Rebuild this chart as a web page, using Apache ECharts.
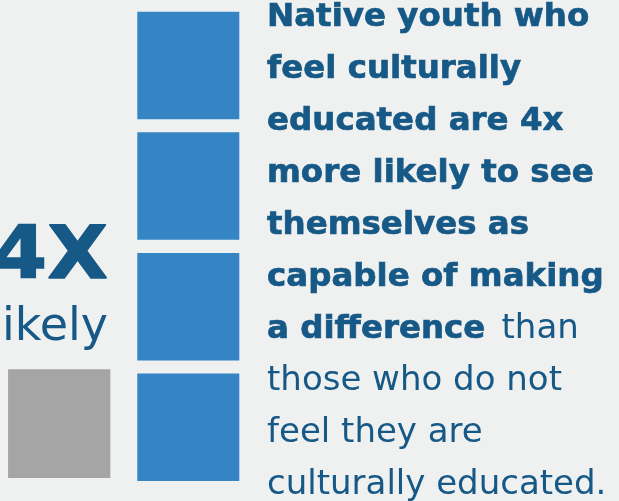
<!DOCTYPE html>
<html>
<head>
<meta charset="utf-8">
<script src="https://cdn.jsdelivr.net/npm/echarts@6/dist/echarts.min.js"></script>
<style>
  html, body { margin: 0; padding: 0; background: #eff0f0; }
  #chart { width: 619px; height: 501px; }
</style>
</head>
<body>
<div id="chart"></div>
<script>
// Likelihood of seeing oneself as able to make a difference (relative units)
const categories = ['Not culturally educated', 'Culturally educated'];
const values = [1, 4];
const barColors = ['#a5a5a5', '#3584c4'];

const headline = '4X';
const subline = 'likely';

// Statement text, one entry per line: [bold part, regular part]
const statementLines = [
  ['Native youth who', ''],
  ['feel culturally', ''],
  ['educated are 4x', ''],
  ['more likely to see', ''],
  ['themselves as', ''],
  ['capable of making', ''],
  ['a difference', 'than'],
  ['', 'those who do not'],
  ['', 'feel they are'],
  ['', 'culturally educated.']
];

const textColor = '#165886';
const chart = echarts.init(document.getElementById('chart'), null, { renderer: 'canvas' });

const lineStep = 52;
const firstBaseline = 28.5;
const boldSize = 32;
const regSize = 34;
const textLeft = 267;

function textEl(x, baseline, text, size, weight, scaleX, align, heavy) {
  const style = {
    text: text,
    font: weight + ' ' + size + 'px "DejaVu Sans"',
    fill: textColor,
    textAlign: align || 'left',
    textVerticalAlign: 'middle',
    verticalAlign: 'middle'
  };
  if (heavy) {
    // thin outline in the fill colour gives the bold runs extra weight
    style.stroke = textColor;
    style.lineWidth = heavy;
  }
  return { type: 'text', x: x, y: baseline - size * 0.33, scaleX: scaleX, style: style };
}

const graphics = [
  textEl(108, 283.5, headline, 73, 'bold', 1.08, 'right', 1.4),
  textEl(108, 343.5, subline, 46, 'normal', 1, 'right')
];

statementLines.forEach(([bold, reg], i) => {
  const base = firstBaseline + i * lineStep;
  if (bold) graphics.push(textEl(textLeft, base, bold, boldSize, 'bold', 1.015, 'left', 0.7));
  if (reg) {
    // regular run follows the bold run on a shared line
    const x = bold ? 501.5 : textLeft;
    graphics.push(textEl(x, base, reg, regSize, 'normal', 1.0));
  }
});

chart.setOption({
  backgroundColor: '#eff0f0',
  animation: false,
  grid: { left: 59.2, width: 129.1, top: 11.7, bottom: 20 },
  xAxis: {
    type: 'category', data: categories, boundaryGap: false,
    axisLine: { show: false }, axisTick: { show: false }, axisLabel: { show: false }
  },
  yAxis: {
    type: 'value', min: 0, max: 4,
    axisLine: { show: false }, axisTick: { show: false }, axisLabel: { show: false },
    splitLine: { show: false }
  },
  series: [{
    type: 'pictorialBar',
    symbol: 'rect',
    data: [
      {
        value: values[0],
        symbolSize: [102.3, 108.7],
        symbolOffset: [0, -3],
        symbolPosition: 'start',
        itemStyle: { color: barColors[0] }
      },
      {
        value: values[1],
        symbolRepeat: values[1],
        symbolSize: [102, 107.5],
        itemStyle: { color: barColors[1] }
      }
    ]
  }],
  graphic: graphics
});
</script>
</body>
</html>
